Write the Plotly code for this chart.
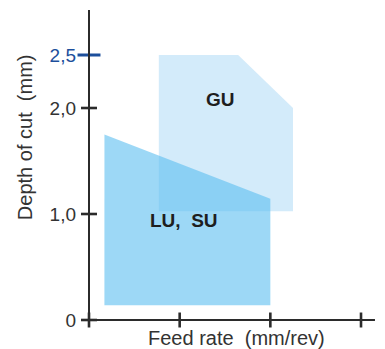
import plotly.graph_objects as go

# Application areas (feed rate vs depth of cut)
lu_su_x = [0.17, 0.17, 2.0, 2.0]
lu_su_y = [0.14, 1.75, 1.145, 0.14]
gu_x = [0.77, 0.77, 1.645, 2.25, 2.25]
gu_y = [1.025, 2.5, 2.5, 2.0, 1.025]

area_labels = ["GU", "LU,\u00a0\u00a0SU"]
label_x = [1.454, 1.044]
label_y = [2.08, 0.943]

x_ticks = [0, 1, 2, 3]
y_ticks = [0, 1, 2]
y_tick_text = ["0", "1,0", "2,0"]
y_mark = 2.5
y_mark_text = "2,5"

x_title = "Feed rate\u00a0\u00a0(mm/rev)"
y_title = "Depth of cut\u00a0\u00a0(mm)"

FONT = "Liberation Sans, Arial, Helvetica, sans-serif"
AXIS = "#2b2b2b"
TEXT = "#333333"
MARK_BLUE = "#1d4f9c"

fig = go.Figure()

fig.add_trace(go.Scatter(
    x=gu_x, y=gu_y, mode="lines", fill="toself",
    fillcolor="rgb(211,235,250)", line=dict(width=0), hoverinfo="skip",
))
fig.add_trace(go.Scatter(
    x=lu_su_x, y=lu_su_y, mode="lines", fill="toself",
    fillcolor="rgba(92,190,240,0.6)", line=dict(width=0), hoverinfo="skip",
))

# highlighted depth mark (sits behind the axis line)
fig.add_trace(go.Scatter(
    x=[0], y=[y_mark], mode="markers", cliponaxis=False, hoverinfo="skip",
    marker=dict(symbol="line-ew-open", size=16.4, color=MARK_BLUE,
                line=dict(color=MARK_BLUE, width=3)),
))

# axis lines through the origin
fig.add_trace(go.Scatter(
    x=[-0.088, 3.154], y=[0, 0], mode="lines",
    line=dict(color=AXIS, width=2), hoverinfo="skip",
))
fig.add_trace(go.Scatter(
    x=[0, 0], y=[-0.066, 2.925], mode="lines",
    line=dict(color=AXIS, width=2), hoverinfo="skip",
))

# crossing tick marks
fig.add_trace(go.Scatter(
    x=x_ticks, y=[0] * len(x_ticks), mode="markers", cliponaxis=False,
    hoverinfo="skip",
    marker=dict(symbol="line-ns-open", size=10.7, color=AXIS,
                line=dict(color=AXIS, width=2.6)),
))
fig.add_trace(go.Scatter(
    x=[0] * len(y_ticks), y=y_ticks, mode="markers", cliponaxis=False,
    hoverinfo="skip",
    marker=dict(symbol="line-ew-open", size=11.4, color=AXIS,
                line=dict(color=AXIS, width=2.6)),
))

for txt, tx, ty in zip(area_labels, label_x, label_y):
    fig.add_annotation(
        x=tx, y=ty, text=f"<b>{txt}</b>", showarrow=False,
        xanchor="center", yanchor="middle",
        font=dict(family=FONT, size=19, color="#1e1e1e"),
    )

# axis titles
fig.add_annotation(
    x=0.53, y=-0.028, xref="paper", yref="paper", text=x_title,
    showarrow=False, xanchor="center", yanchor="middle",
    font=dict(family=FONT, size=20, color=TEXT),
)
fig.add_annotation(
    x=-0.173, y=0.598, xref="paper", yref="paper", text=y_title,
    showarrow=False, xanchor="center", yanchor="middle", textangle=-90,
    font=dict(family=FONT, size=20, color=TEXT),
)

fig.update_layout(
    width=385, height=349,
    margin=dict(l=77, r=8, t=8, b=20, autoexpand=False),
    paper_bgcolor="white", plot_bgcolor="white",
    showlegend=False,
    font=dict(family=FONT, color=TEXT),
    xaxis=dict(
        range=[-0.13235, 3.1764], showgrid=False, zeroline=False,
        showline=False, showticklabels=False, ticks="", automargin=False,
    ),
    yaxis=dict(
        range=[-0.0849, 2.9434], showgrid=False, zeroline=False,
        showline=False, ticks="", automargin=False,
        tickvals=y_ticks + [y_mark],
        ticktext=y_tick_text + [f"<span style='color:{MARK_BLUE}'>{y_mark_text}</span>"],
        tickfont=dict(size=19, color=TEXT),
    ),
)

fig.write_html("out.html")
